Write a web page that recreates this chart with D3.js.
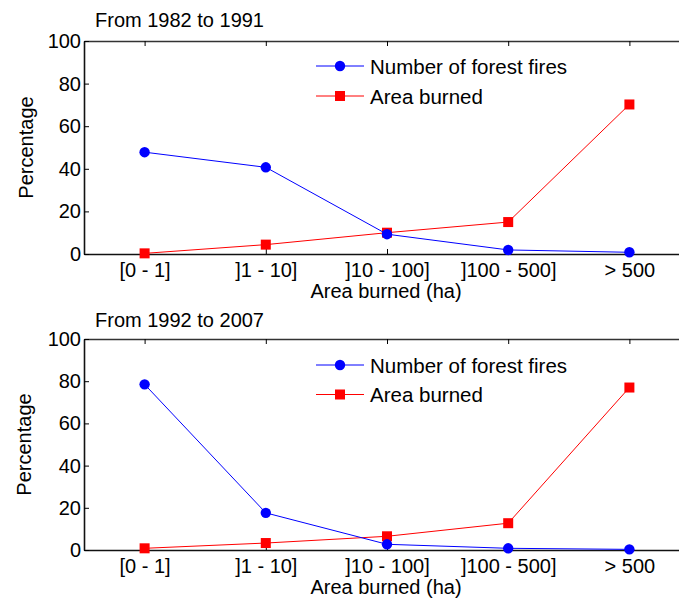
<!DOCTYPE html>
<html><head><meta charset="utf-8">
<script src="https://cdn.jsdelivr.net/npm/d3@7"></script>
<style>body{margin:0;background:#fff}svg{display:block}text{font-family:Arial,"Liberation Sans",sans-serif;fill:#000}</style>
</head><body>
<script>
const categories = ["[0 - 1]", "]1 - 10]", "]10 - 100]", "]100 - 500]", "> 500"];
const yTicks = [0, 20, 40, 60, 80, 100];
const titles = ["From 1982 to 1991", "From 1992 to 2007"];
const seriesNames = ["Number of forest fires", "Area burned"];
const fires1982 = [47.8, 40.7, 9.3, 1.9, 0.8];
const area1982 = [0.3, 4.4, 10.0, 15.0, 70.2];
const fires1992 = [78.5, 17.6, 2.7, 0.8, 0.3];
const area1992 = [0.8, 3.3, 6.5, 12.7, 77.0];

const W = 679, H = 600;
const FF = "Arial, 'Liberation Sans', sans-serif";
const svg = d3.select("body").append("svg").attr("width", W).attr("height", H);

const panels = [
  {title: titles[0], fires: fires1982, area: area1982, top: 41, bottom: 254, titleY: 27, legY: 66, legGap: 30},
  {title: titles[1], fires: fires1992, area: area1992, top: 339, bottom: 550, titleY: 327, legY: 365, legGap: 29.5}
];

panels.forEach(p => {
  const g = svg.append("g");
  const x = d3.scaleLinear().domain([0.5, 5.5]).range([84, 690]);
  const y = d3.scaleLinear().domain([0, 100]).range([p.bottom, p.top]);

  // title
  g.append("text").attr("x", 95).attr("y", p.titleY).attr("font-size", 20).text(p.title);

  // axes
  const ax = g.append("g").attr("transform", `translate(0,${p.bottom})`)
    .call(d3.axisBottom(x).tickValues([1,2,3,4,5]).tickFormat(i => categories[i-1]).tickSizeInner(-5).tickSizeOuter(0).tickPadding(9));
  ax.select(".domain").attr("stroke-width", 1.6).attr("stroke", "#111");
  ax.selectAll("text").attr("font-size", 20).style("font-family", FF);
  const axT = g.append("g").attr("transform", `translate(0,${p.top})`)
    .call(d3.axisTop(x).tickValues([1,2,3,4,5]).tickFormat("").tickSizeInner(-5).tickSizeOuter(0));
  axT.select(".domain").attr("stroke-width", 1.6).attr("stroke", "#333");
  const ay = g.append("g").attr("transform", `translate(84,0)`)
    .call(d3.axisLeft(y).tickValues(yTicks).tickSizeInner(-5).tickSizeOuter(0).tickPadding(3));
  ay.select(".domain").attr("stroke-width", 1.6).attr("stroke", "#111");
  ay.selectAll("text").attr("font-size", 20).style("font-family", FF);

  g.append("text").attr("transform", `translate(${p.top < 100 ? 33 : 31},${(p.top+p.bottom)/2}) rotate(-90)`)
    .attr("text-anchor", "middle").attr("font-size", 20).text("Percentage");
  g.append("text").attr("x", 386).attr("y", p.bottom + 43.5).attr("text-anchor", "middle")
    .attr("font-size", 20).text("Area burned (ha)");

  const line = d3.line().x((d, i) => x(i + 1)).y(d => y(d));
  // area burned
  g.append("path").datum(p.area).attr("d", line).attr("fill", "none").attr("stroke", "#ff0000").attr("stroke-width", 1);
  g.selectAll(".sq").data(p.area).enter().append("rect")
    .attr("x", (d, i) => x(i + 1) - 5).attr("y", d => y(d) - 5).attr("width", 10).attr("height", 10).attr("fill", "#ff0000");
  // fires
  g.append("path").datum(p.fires).attr("d", line).attr("fill", "none").attr("stroke", "#0000ff").attr("stroke-width", 1);
  g.selectAll(".ci").data(p.fires).enter().append("circle")
    .attr("cx", (d, i) => x(i + 1)).attr("cy", d => y(d)).attr("r", 5.2).attr("fill", "#0000ff");

  // legend
  const colors = ["#0000ff", "#ff0000"];
  seriesNames.forEach((n, k) => {
    const ly = p.legY + k * p.legGap;
    g.append("line").attr("x1", 316).attr("x2", 364).attr("y1", ly).attr("y2", ly).attr("stroke", colors[k]).attr("stroke-width", 1);
    if (k === 0) g.append("circle").attr("cx", 340).attr("cy", ly).attr("r", 5.2).attr("fill", colors[k]);
    else g.append("rect").attr("x", 335).attr("y", ly - 5).attr("width", 10).attr("height", 10).attr("fill", colors[k]);
    g.append("text").attr("x", 370).attr("y", ly + 7.5).attr("font-size", 20.5).text(n);
  });
});
</script>
</body></html>
